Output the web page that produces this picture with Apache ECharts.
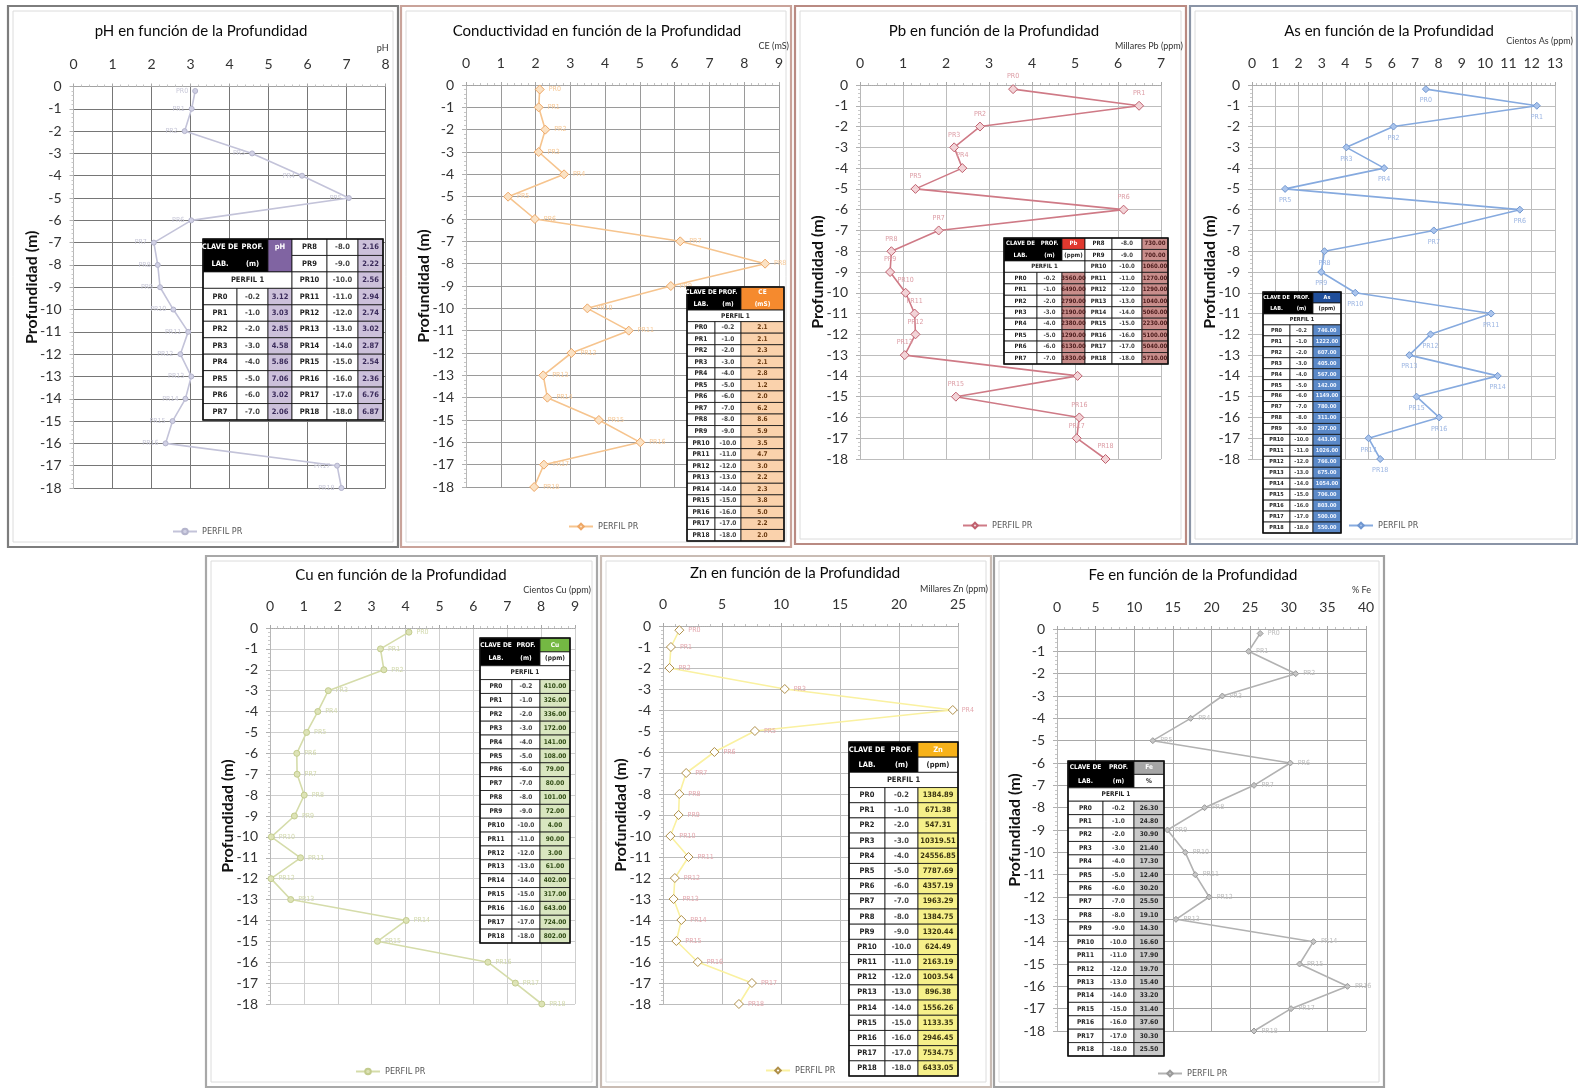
<!DOCTYPE html>
<html><head><meta charset="utf-8">
<script src="https://cdn.jsdelivr.net/npm/echarts@6/dist/echarts.min.js"></script>
<style>html,body{margin:0;padding:0;background:#fff}#c{width:1578px;height:1091px}</style>
</head><body><div id="c"></div><script>
// ---------------- DATA ----------------
const samples = ['PR0','PR1','PR2','PR3','PR4','PR5','PR6','PR7','PR8','PR9','PR10','PR11','PR12','PR13','PR14','PR15','PR16','PR17','PR18'];
const depths = [-0.2,-1,-2,-3,-4,-5,-6,-7,-8,-9,-10,-11,-12,-13,-14,-15,-16,-17,-18];
const phValues = [3.12,3.03,2.85,4.58,5.86,7.06,3.02,2.06,2.16,2.22,2.56,2.94,2.74,3.02,2.87,2.54,2.36,6.76,6.87];
const ceValues = [2.12,2.09,2.28,2.09,2.82,1.21,1.98,6.16,8.60,5.89,3.49,4.68,3.03,2.22,2.34,3.82,5.01,2.24,1.96];
const pbValues = [3560,6490,2790,2190,2380,1290,6130,1830,730,700,1060,1270,1290,1040,5060,2230,5100,5040,5710];
const asValues = [746,1222,607,405,567,142,1149,780,311,297,443,1026,766,675,1054,706,803,500,550];
const cuValues = [410,326,336,172,141,108,79,80,101,72,4,90,3,61,402,317,643,724,802];
const znValues = [1384.89,671.38,547.31,10319.51,24556.85,7787.69,4357.19,1963.29,1384.75,1320.44,624.49,2163.19,1003.54,896.38,1556.26,1133.35,2946.45,7534.75,6433.05];
const feValues = [26.3,24.8,30.9,21.4,17.3,12.4,30.2,25.5,19.1,14.3,16.6,17.9,19.7,15.4,33.2,31.4,37.6,30.3,25.5];
const titles = ['pH en función de la Profundidad','Conductividad en función de la Profundidad','Pb en función de la Profundidad','As en función de la Profundidad','Cu en función de la Profundidad','Zn en función de la Profundidad','Fe en función de la Profundidad'];
const units = ['pH','CE (mS)','Millares Pb (ppm)','Cientos As (ppm)','Cientos Cu (ppm)','Millares Zn (ppm)','% Fe'];
const symbols = ['pH','CE','Pb','As','Cu','Zn','Fe'];
const tableUnits = [null,'(mS)','(ppm)','(ppm)','(ppm)','(ppm)','%'];
const yAxisName = 'Profundidad (m)';
const legendName = 'PERFIL PR';
const profileName = 'PERFIL 1';

// ---------------- LAYOUT / STYLE ----------------
const MF = "Lato, 'Open Sans', sans-serif";
const TF = "'Liberation Sans Narrow','DejaVu Sans Condensed','Liberation Sans',sans-serif";
const P = [
 {vals:phValues, max:8, step:1, div:1, dec:2, box:[8,6,390,541], border:'#7d7d7d', grid:[73.5,86.5,312,401.5], tAt:[201,24], lg:[172,527],
  uGap:3, uUp:38, gridC:'#767676', line:'#c3c3d9', sym:'circle', ss:5, sf:'#d0d0e4', sb:'#b4b4cc', lab:'#c8c8d8', lp:'left',
  tb:{cols:[203,237,268,292,327,358,383], top:239, bottom:420, split:true, head:'#8064a2', fill:'#ccc0da', vc:'#3a2a5a', fs:7.5}},
 {vals:ceValues, max:9, step:1, div:1, dec:1, box:[401,6,390,541], border:'#c9a39a', grid:[466,85,313,402], tAt:[597,24], lg:[568,522],
  uGap:10, uUp:39, gridC:'#9a9a9a', line:'#f6c48e', sym:'diamond', ss:9, sf:'#fbe2c4', sb:'#eea766', lab:'#f6c896', lp:'right',
  tb:{cols:[687,715,741,784], top:287, bottom:541, split:false, head:'#f58a2e', fill:'#fad2ac', vc:'#6a3a10', fs:6.5}},
 {vals:pbValues, max:7000, step:1000, div:1000, dec:2, box:[795,6,391,538], border:'#b98a82', grid:[860,85,301,374], tAt:[994,24], lg:[962,521],
  uGap:22, uUp:39, gridC:'#bdbdbd', line:'#cf7a86', sym:'diamond', ss:9, sf:'#f2d3d7', sb:'#c0606e', lab:'#dc9ca4', lp:'top',
  tb:{cols:[1004,1037,1062,1085,1112,1142,1168], top:238, bottom:364, split:true, head:'#e0392f', fill:'#c98e8c', vc:'#4a1a1a', fs:6}},
 {vals:asValues, max:1300, step:100, div:100, dec:2, box:[1190,6,387,538], border:'#8a94a6', grid:[1252,85,303,374], tAt:[1389,24], lg:[1348,521],
  uGap:18, uUp:44, gridC:'#bdbdbd', line:'#86aadf', sym:'diamond', ss:7, sf:'#aac4ec', sb:'#6f96d0', lab:'#9ab4e2', lp:'bottom',
  tb:{cols:[1263,1290,1313,1341], top:292, bottom:533, split:false, head:'#1f4e9a', fill:'#5b89c8', vc:'#eef4ff', fs:5.5}},
 {vals:cuValues, max:900, step:100, div:100, dec:2, box:[206,556,391,531], border:'#a8a8a8', grid:[270,628,305,376], tAt:[401,568], lg:[355,1067],
  uGap:16, uUp:38, gridC:'#cfcfcf', line:'#d5dcaa', sym:'circle', ss:6, sf:'#dde3b6', sb:'#c3cc8e', lab:'#d2d9ac', lp:'right',
  tb:{cols:[480,512,540,570], top:638, bottom:943, split:false, head:'#74b843', fill:'#d9e6c0', vc:'#2f4a14', fs:6.5}},
 {vals:znValues, max:25000, step:5000, div:1000, dec:2, box:[601,556,390,531], border:'#c9bcb4', grid:[663,626,295,378], tAt:[795,566], lg:[765,1066],
  uGap:30, uUp:37, gridC:'#bdbdbd', line:'#faf1a0', sym:'diamond', ss:9, sf:'#ffffff', sb:'#b0904a', lab:'#e4a8ae', lp:'right',
  tb:{cols:[849,885,918,958], top:742, bottom:1076, split:false, head:'#f7b21a', fill:'#f6f08a', vc:'#3a3410', fs:7.5}},
 {vals:feValues, max:40, step:5, div:1, dec:2, box:[994,556,390,531], border:'#a0a0a0', grid:[1057,629,309,402], tAt:[1193,568], lg:[1157,1069],
  uGap:5, uUp:39, gridC:'#a8a8a8', line:'#b2b2b2', sym:'diamond', ss:6, sf:'#c4c4c4', sb:'#9a9a9a', lab:'#bcbcbc', lp:'right',
  tb:{cols:[1068,1103,1134,1164], top:761, bottom:1056, split:false, head:'#a6a6a6', fill:'#c9c9c9', vc:'#2a2a2a', fs:6.5}}
];

function buildTable(t, sym, unit, vals, dec){
  const els = [];
  const nRows = t.split ? 11 : 22;
  const rh = (t.bottom - t.top) / nRows;
  const c = t.cols;
  const Y = r => t.top + r * rh;
  function rect(x0,x1,r0,r1,fill,lw){
    els.push({type:'rect', z:100, silent:true, shape:{x:x0,y:Y(r0),width:x1-x0,height:(r1-r0)*rh},
      style:{fill:fill, stroke:'#111', lineWidth:lw||0.8}});
  }
  function text(x0,x1,r0,r1,str,color){
    els.push({type:'text', z:101, silent:true, x:(x0+x1)/2, y:(Y(r0)+Y(r1))/2,
      style:{text:str, fill:color, font:'bold '+t.fs+'px '+TF, textAlign:'center', textVerticalAlign:'middle'}});
  }
  rect(c[0],c[2],0,2,'#000');
  text(c[0],c[1],0,1,'CLAVE DE','#fff'); text(c[0],c[1],1,2,'LAB.','#fff');
  text(c[1],c[2],0,1,'PROF.','#fff'); text(c[1],c[2],1,2,'(m)','#fff');
  if (unit === null) {
    rect(c[2],c[3],0,2,t.head); text(c[2],c[3],0,1,sym,'#fff');
  } else if (sym === 'CE') {
    rect(c[2],c[3],0,2,t.head); text(c[2],c[3],0,1,sym,'#fff'); text(c[2],c[3],1,2,unit,'#fff');
  } else {
    rect(c[2],c[3],0,1,t.head); text(c[2],c[3],0,1,sym,'#fff');
    rect(c[2],c[3],1,2,'#fff'); text(c[2],c[3],1,2,unit,'#222');
  }
  rect(c[0],c[3],2,3,'#fff'); text(c[0],c[3],2,3,profileName,'#222');
  samples.forEach((nm,k)=>{
    let r, x;
    if (t.split) { if (k < 8) { r = 3+k; x = c.slice(0,4); } else { r = k-8; x = c.slice(3,7); } }
    else { r = 3+k; x = c.slice(0,4); }
    rect(x[0],x[1],r,r+1,'#fff'); rect(x[1],x[2],r,r+1,'#fff'); rect(x[2],x[3],r,r+1,t.fill);
    text(x[0],x[1],r,r+1,nm,'#222');
    text(x[1],x[2],r,r+1,depths[k].toFixed(1),'#444');
    text(x[2],x[3],r,r+1,vals[k].toFixed(dec),t.vc);
  });
  rect(c[0],c[c.length-1],0,nRows,'none',1.6);
  return els;
}

const option = {animation:false, backgroundColor:'#fff', textStyle:{fontFamily:MF},
  title:[], grid:[], xAxis:[], yAxis:[], series:[], legend:[], graphic:[{type:'group', children:[]}]};
const gfx = option.graphic[0].children;

P.forEach((p,i)=>{
  const b = p.box;
  gfx.push({type:'rect', silent:true, shape:{x:b[0],y:b[1],width:b[2],height:b[3]}, style:{fill:'none', stroke:p.border, lineWidth:2.2}});
  gfx.push({type:'rect', silent:true, shape:{x:b[0]+5,y:b[1]+5,width:b[2]-10,height:b[3]-10}, style:{fill:'none', stroke:'#dcdcdc', lineWidth:1}});
  // axis unit caption (display-unit label of the top value axis)
  gfx.push({type:'text', silent:true, x:p.grid[0]+p.grid[2]+p.uGap, y:p.grid[1]-p.uUp,
    style:{text:units[i], fill:'#333', font:'9px '+MF, textAlign:'right', textVerticalAlign:'middle'}});
  option.title.push({text:titles[i], left:p.tAt[0], top:p.tAt[1], textAlign:'center', padding:0,
    textStyle:{fontSize:15, fontWeight:'normal', color:'#0a0a0a', fontFamily:MF}});
  option.grid.push({left:p.grid[0], top:p.grid[1], width:p.grid[2], height:p.grid[3], outerBoundsMode:'none', containLabel:false});
  option.xAxis.push({type:'value', gridIndex:i, position:'top', min:0, max:p.max, interval:p.step,
    axisLine:{show:true, lineStyle:{color:'#a8a8a8', type:'dotted'}},
    axisTick:{show:true, length:3, lineStyle:{color:'#a8a8a8'}},
    minorTick:{show:true, splitNumber:5, length:2, lineStyle:{color:'#c4c4c4'}},
    axisLabel:{fontSize:14, color:'#333', margin:15, formatter:v=>String(Math.round(v/p.div*100)/100)},
    splitLine:{show:true, lineStyle:{color:p.gridC, width:1}}});
  option.yAxis.push({type:'value', gridIndex:i, min:-18, max:0, interval:1,
    name:yAxisName, nameLocation:'middle', nameGap:34, nameMoveOverlap:false,
    nameTextStyle:{fontSize:16, fontWeight:'bold', color:'#111'},
    axisLine:{show:true, lineStyle:{color:'#b8b8b8'}},
    axisTick:{show:true, length:4, lineStyle:{color:'#b0b0b0'}},
    minorTick:{show:true, splitNumber:5, length:2, lineStyle:{color:'#c8c8c8'}},
    axisLabel:{fontSize:14, color:'#333', margin:12},
    splitLine:{show:true, lineStyle:{color:p.gridC, width:1}}});
  const sname = legendName + ' ' + symbols[i];
  option.series.push({type:'line', name:sname, xAxisIndex:i, yAxisIndex:i,
    data:samples.map((s,k)=>({name:s, value:[p.vals[k], depths[k]]})),
    symbol:p.sym, symbolSize:p.ss, showAllSymbol:true,
    lineStyle:{color:p.line, width:1.6}, itemStyle:{color:p.sf, borderColor:p.sb, borderWidth:1},
    label:{show:true, position:p.lp, distance:4, formatter:'{b}', fontSize:7, color:p.lab, fontFamily:TF}});
  option.legend.push({data:[sname], left:p.lg[0], top:p.lg[1], itemWidth:24, itemHeight:7, itemGap:4, padding:0,
    formatter:()=>legendName, textStyle:{fontSize:9, color:'#555', fontFamily:TF}});
  buildTable(p.tb, symbols[i], tableUnits[i], p.vals, p.dec).forEach(e=>gfx.push(e));
});

const chart = echarts.init(document.getElementById('c'), null, {renderer:'canvas'});
chart.setOption(option);
</script></body></html>
